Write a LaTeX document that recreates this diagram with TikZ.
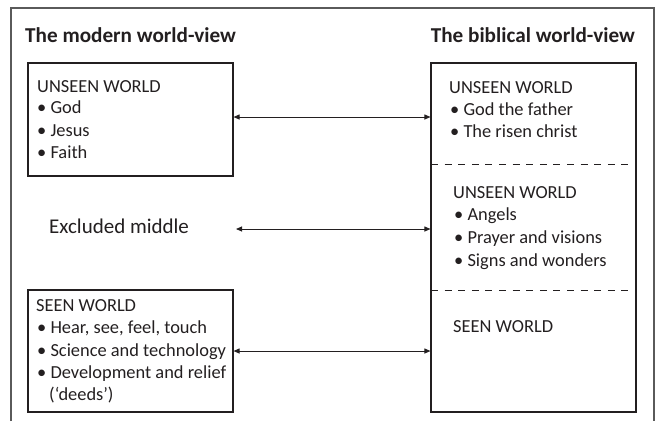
\documentclass[tikz,border=0pt]{standalone}
\usepackage{fontspec}
\setmainfont{Carlito}
\usetikzlibrary{arrows.meta}
\definecolor{ink}{HTML}{231F20}
\definecolor{frame}{HTML}{5A5A5A}
\tikzset{
  box/.style={draw=ink, line width=1.1pt, inner sep=0pt},
  txt/.style={anchor=base west, inner sep=0pt, text=ink, font=\fontsize{18.4}{22}\selectfont},
  title/.style={anchor=base west, inner sep=0pt, text=ink, font=\fontsize{21.2}{25}\selectfont\bfseries},
  big/.style={anchor=base west, inner sep=0pt, text=ink, font=\fontsize{21}{25}\selectfont},
  arr/.style={draw=ink, line width=0.9pt, {Triangle[length=6pt,width=5pt]}-{Triangle[length=6pt,width=5pt]}},
  sep/.style={draw=ink, line width=1pt, dash pattern=on 7pt off 6.6pt}
}
\begin{document}
\begin{tikzpicture}[x=1pt,y=-1pt]
\useasboundingbox (0,0) rectangle (660,421);
% outer frame (open at bottom)
\draw[frame, line width=1.3pt] (11,421) -- (11,8) -- (654,8) -- (654,421);
% titles
\node[title] (t1) at (25,42) {The modern world-view};
\node[title, anchor=base east] (t2) at (635,42) {The biblical world-view};
% boxes
\node[box, minimum width=205pt, minimum height=113pt] (lt) at (130.5,119.5) {};
\node[box, minimum width=205pt, minimum height=122pt] (lb) at (130.5,351) {};
\node[box, minimum width=205pt, minimum height=349pt] (rb) at (533.5,237.5) {};
% dashed separators
\coordinate (d1a) at (431,164); \coordinate (d1b) at (636,164);
\coordinate (d2a) at (431,290); \coordinate (d2b) at (636,290);
\draw[sep] (d1a) -- (d1b);
\draw[sep] (d2a) -- (d2b);
% left top box text
\node[txt] (lt1) at (37,92) {UNSEEN WORLD};
\node[txt] (lt2) at (37,113) {• God};
\node[txt] (lt3) at (37,136) {• Jesus};
\node[txt] (lt4) at (37,158) {• Faith};
% left bottom box text
\node[txt] (lb1) at (36,311) {SEEN WORLD};
\node[txt] (lb2) at (37,333) {• Hear, see, feel, touch};
\node[txt] (lb3) at (37,356) {• Science and technology};
\node[txt] (lb4) at (37,378) {• Development and relief};
\node[txt] (lb5) at (49,400) {(‘deeds’)};
% excluded middle
\node[big] (ex) at (49,233) {Excluded middle};
% right box text
\node[txt] (r1) at (449,93) {UNSEEN WORLD};
\node[txt] (r2) at (450,115) {• God the father};
\node[txt] (r3) at (450,137) {• The risen christ};
\node[txt] (r4) at (453,198) {UNSEEN WORLD};
\node[txt] (r5) at (454,220) {• Angels};
\node[txt] (r6) at (454,243) {• Prayer and visions};
\node[txt] (r7) at (454,266) {• Signs and wonders};
\node[txt] (r8) at (453,332) {SEEN WORLD};
% arrows
\coordinate (exr) at (236,229);
\draw[arr] (lt.east |- 0,117) -- (rb.west |- 0,117);
\draw[arr] (exr) -- (rb.west |- exr);
\draw[arr] (lb.east) -- (rb.west |- lb.east);
\end{tikzpicture}
\end{document}
